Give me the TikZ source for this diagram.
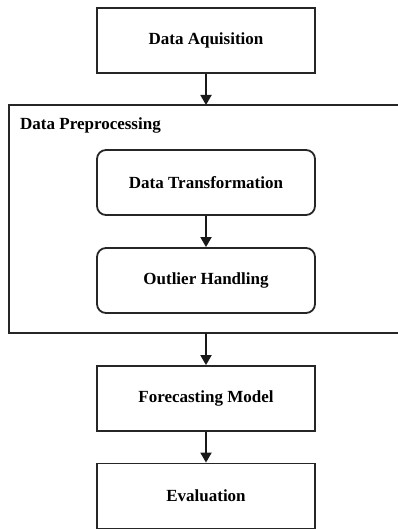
\documentclass[tikz,border=0pt]{standalone}
\usepackage{fontspec}
\setmainfont{Liberation Serif}
\usetikzlibrary{arrows.meta}
\begin{document}
\begin{tikzpicture}[x=1pt,y=-1pt,
  box/.style={draw=black!85, line width=1.8pt, minimum width=218pt, minimum height=65pt, inner sep=0pt, font=\bfseries\fontsize{17}{19}\selectfont},
  rbox/.style={box, rounded corners=9pt},
  arr/.style={draw=black!90, line width=1.8pt, -{Triangle[width=11pt,length=10pt]}},
  lbl/.style={font=\bfseries\fontsize{17}{19}\selectfont, anchor=base west, inner sep=0pt}]
\useasboundingbox (0,0) rectangle (398,529);
\node[box] (acq) at (206,40.5) {Data Aquisition};
\draw[draw=black!85, line width=1.8pt] (9,105) rectangle (404,333);
\coordinate (ctop) at (206,105);
\coordinate (cbot) at (206,333);
\node[lbl] (prep) at (20,130) {Data Preprocessing};
\node[rbox] (trans) at (206,182.5) {Data Transformation};
\node[rbox] (out) at (206,280.5) {Outlier Handling};
\node[box] (fore) at (206,398.5) {Forecasting Model};
\node[box] (eval) at (206,496) {Evaluation};
\draw[arr] (acq) -- (ctop);
\draw[arr] (trans) -- (out);
\draw[arr] (cbot) -- (fore);
\draw[arr] (fore) -- (eval);
\end{tikzpicture}
\end{document}
